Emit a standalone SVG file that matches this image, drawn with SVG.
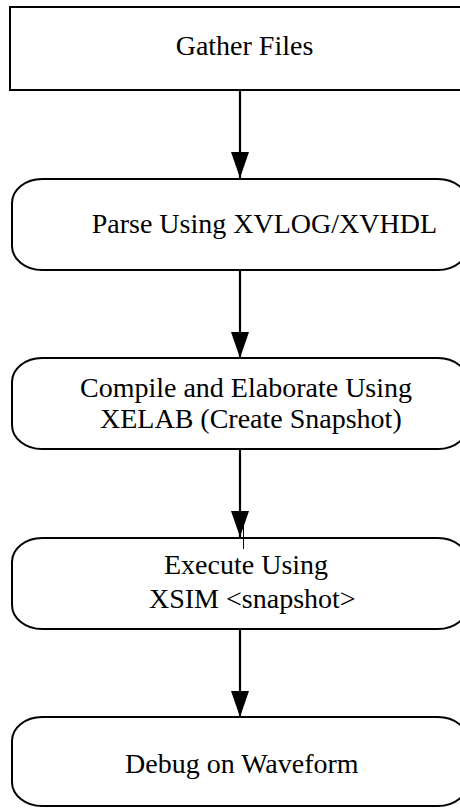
<svg xmlns="http://www.w3.org/2000/svg" width="460" height="808" viewBox="0 0 460 808">
  <style>
    .box { fill: #ffffff; stroke: #000000; stroke-width: 2; }
    .edge { stroke: #000000; stroke-width: 2.2; fill: none; marker-end: url(#arrow); }
  </style>
  <defs>
    <marker id="arrow" markerUnits="userSpaceOnUse" markerWidth="26" markerHeight="18" refX="26" refY="9" orient="auto">
      <path d="M0,0 L26,9 L0,18 Z" fill="#000000"/>
    </marker>
  </defs>
  <rect width="460" height="808" fill="#ffffff"/>
  <g id="connectors">
    <line class="edge" x1="240" y1="90" x2="240" y2="178"/>
    <line class="edge" x1="240" y1="270" x2="240" y2="358"/>
    <line class="edge" x1="240" y1="449" x2="240" y2="537"/>
    <line class="edge" x1="240" y1="629" x2="240" y2="717"/>
  </g>
  <g font-family="Liberation Serif, Tinos, DejaVu Serif, serif" font-size="28" fill="#000000">
    <g id="gather">
      <rect class="box" x="10" y="7" width="460" height="83"/>
      <text x="175.7" y="55">Gather Files</text>
    </g>
    <g id="parse">
      <rect class="box" x="12" y="179" width="456" height="91" rx="30" ry="24"/>
      <text x="91.7" y="233.3">Parse Using XVLOG/XVHDL</text>
    </g>
    <g id="compile">
      <rect class="box" x="12" y="358" width="456" height="91" rx="30" ry="24"/>
      <text x="80" y="396.7">Compile and Elaborate Using</text>
      <text x="100" y="428">XELAB (Create Snapshot)</text>
    </g>
    <g id="execute">
      <rect class="box" x="12" y="538" width="456" height="91" rx="30" ry="24"/>
      <text x="164" y="574">Execute Using</text>
      <text x="149" y="608">XSIM &lt;snapshot&gt;</text>
      <line x1="243.5" y1="515" x2="243.5" y2="549" stroke="#000000" stroke-width="1"/>
    </g>
    <g id="debug">
      <rect class="box" x="12" y="717" width="456" height="89" rx="30" ry="24"/>
      <text x="125" y="772.7">Debug on Waveform</text>
    </g>
  </g>
</svg>
